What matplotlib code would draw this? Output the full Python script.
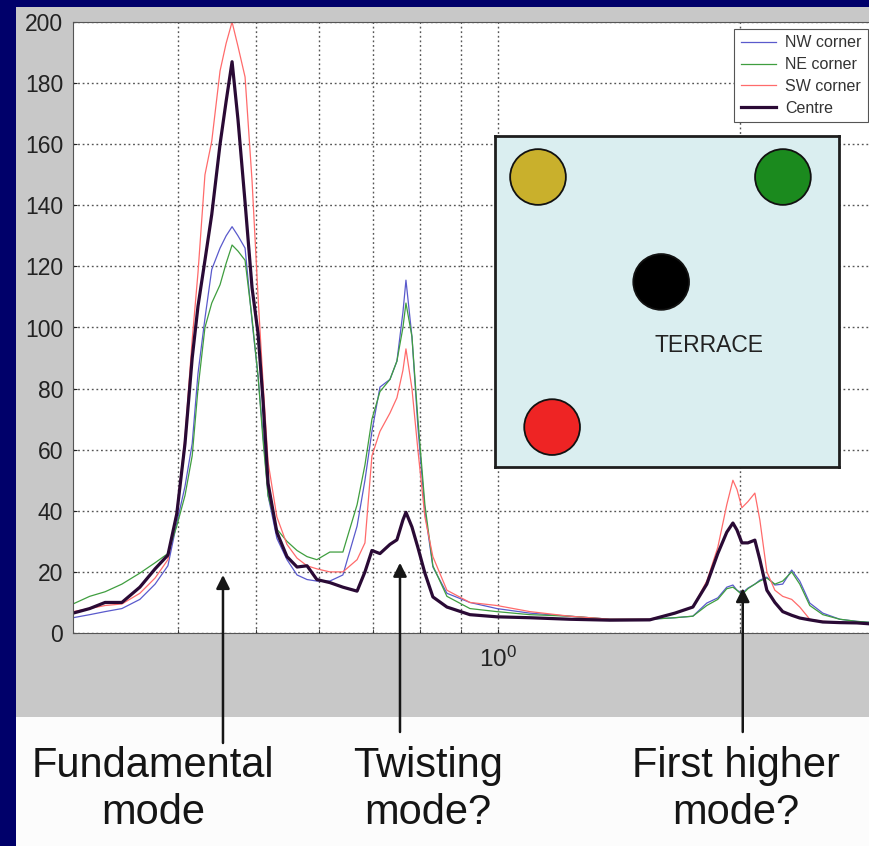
# Response spectra measured at four points on the terrace, with mode labels
import matplotlib.pyplot as plt
from matplotlib.patches import Rectangle, Circle
from matplotlib.ticker import FixedLocator, NullFormatter, LogFormatterSciNotation

plt.rcParams['font.family'] = ['Liberation Sans', 'DejaVu Sans']

# frequency (Hz) shared by all four records
freq = [0.2965, 0.311, 0.325, 0.341, 0.359, 0.375, 0.389, 0.399, 0.4085, 0.417,
        0.424, 0.4325, 0.441, 0.4516, 0.4595, 0.4674, 0.4754, 0.4851, 0.4949, 0.5035,
        0.5107, 0.5181, 0.5313, 0.5469, 0.5629, 0.5792, 0.5957, 0.6183, 0.6418, 0.6684,
        0.6836, 0.6974, 0.7136, 0.7343, 0.7491, 0.7621, 0.7687, 0.782, 0.7954, 0.8115,
        0.8303, 0.8643, 0.9231, 0.997, 1.096, 1.228, 1.378, 1.544, 1.659, 1.747,
        1.818, 1.876, 1.925, 1.959, 1.982, 2.01, 2.045, 2.086, 2.116, 2.159,
        2.209, 2.259, 2.318, 2.372, 2.441, 2.534, 2.66, 2.793, 2.899]

nw_corner = [5, 6, 7, 8, 11, 16, 22, 36, 48, 62,
             85, 103, 119, 126, 130, 133, 130, 126, 102, 84,
             65, 45, 31, 24, 19, 17.5, 17, 17, 19, 35,
             50, 66, 80.5, 83, 89, 105, 115.5, 97, 67.5, 40,
             21.6, 13, 10, 8, 6.5, 5.5, 4.5, 4.5, 5, 5.5,
             9.8, 11.5, 15, 15.7, 14, 13, 14.7, 16, 17.3, 18.3,
             15.7, 16, 20.6, 17, 9.8, 6.5, 4.5, 3.8, 3.5]

ne_corner = [9.5, 12, 13.5, 16, 19.6, 23, 26, 35, 45, 58,
             80, 100, 108, 114, 121, 127, 125, 122, 103, 84,
             63, 45, 34, 30, 27, 25, 24, 26.5, 26.5, 42,
             55, 70, 79, 83, 89, 100, 108, 97, 70, 42,
             22, 12, 8, 7, 6, 5.5, 4.5, 4.5, 5, 5.5,
             9, 11, 14.5, 15, 14, 12.5, 14.5, 16, 17, 18,
             16, 17, 20, 16, 9, 6, 4.5, 3.8, 3.5]

sw_corner = [7, 8, 9, 9.5, 13, 18, 24, 40, 64, 96,
             118, 150, 161, 184, 193, 200, 192, 182, 148, 110,
             82, 56, 38, 29, 24.5, 22, 21, 20, 20, 24,
             29.5, 58, 66, 72, 77, 86, 93, 80, 60, 38,
             25, 14, 10, 9, 7, 5.5, 4.5, 4.5, 6.5, 8.5,
             17, 28, 42, 50, 47, 41, 43, 45.8, 37, 20,
             14, 12, 11, 8.5, 4.5, 3.8, 3.5, 3.3, 3]

centre = [6.5, 8, 10, 10, 15, 21, 25.5, 39, 62, 90,
          107, 122, 137, 160, 174, 187, 168, 141, 113, 98,
          76, 49, 33, 25, 21.6, 22, 17.5, 16.5, 15, 13.7,
          20, 27, 26, 29, 30.5, 37, 39.5, 34.7, 28, 19.6,
          11.8, 8.5, 6, 5.3, 5, 4.5, 4.2, 4.3, 6.5, 8.5,
          16, 26, 33, 36, 33.7, 29.5, 29.5, 30.4, 24, 14,
          10, 7, 5.8, 4.9, 4.3, 3.6, 3.4, 3.3, 3]

y_ticks = [0, 20, 40, 60, 80, 100, 120, 140, 160, 180, 200]

# labelled modes and where their arrows point
mode_labels = ['Fundamental\nmode', 'Twisting\nmode?', 'First higher\nmode?']
mode_freqs = [0.4554, 0.7557, 2.015]
mode_levels = [19, 23, 14.7]

# sensor layout on the terrace sketch (inset units, terrace is 10 wide)
sensor_colors = ['#c9b02c', '#1b8a1e', '#000000', '#ee2424']
sensor_x = [1.25, 8.37, 4.83, 1.66]
sensor_y = [8.43, 8.43, 5.38, 1.16]

W, H = 870, 846
fig = plt.figure(figsize=(W / 100, H / 100), dpi=100, facecolor='#00006a')

# slide panels behind the chart
fig.patches.append(Rectangle((16 / W, 1 - 717 / H), 1, (717 - 7) / H,
                             transform=fig.transFigure, facecolor='#c8c8c8',
                             edgecolor='none', zorder=-10))
fig.patches.append(Rectangle((16 / W, 0), 1, 1 - 717 / H,
                             transform=fig.transFigure, facecolor='#fcfcfc',
                             edgecolor='none', zorder=-10))

ax = fig.add_axes([73 / W, 1 - 633 / H, (W - 73) / W, (633 - 22) / H])
ax.set_facecolor('white')

ax.plot(freq, nw_corner, color='#5a5acc', lw=0.9, label='NW corner')
ax.plot(freq, ne_corner, color='#3f9e3f', lw=0.9, label='NE corner')
ax.plot(freq, sw_corner, color='#ff6b6b', lw=0.9, label='SW corner')
ax.plot(freq, centre, color='#2a0a35', lw=2.3, label='Centre')

ax.set_xscale('log')
ax.set_xlim(0.2965, 2.9)
ax.set_ylim(0, 200)
ax.xaxis.set_major_locator(FixedLocator([1]))
ax.xaxis.set_major_formatter(LogFormatterSciNotation())
ax.xaxis.set_minor_locator(FixedLocator([0.4, 0.5, 0.6, 0.7, 0.8, 0.9, 2]))
ax.xaxis.set_minor_formatter(NullFormatter())
ax.set_yticks(y_ticks)
ax.grid(True, which='both', linestyle=(0, (1.3, 2.0)), color='#555555', lw=1.0)
ax.tick_params(axis='both', which='both', direction='in', length=3,
               labelsize=16.5, colors='#222222')
ax.tick_params(axis='x', pad=10, labelsize=17.5)
ax.tick_params(axis='y', pad=7)
for side in ['left', 'top', 'bottom']:
    ax.spines[side].set_color('#555555')
    ax.spines[side].set_linewidth(0.8)
ax.spines['right'].set_visible(False)

leg = ax.legend(loc='upper right', bbox_to_anchor=(868 / W, 1 - 29 / H),
                bbox_transform=fig.transFigure, fontsize=11.5, fancybox=False,
                framealpha=1, edgecolor='#555555', handlelength=2.2,
                handletextpad=0.6, labelspacing=0.42, borderpad=0.4,
                borderaxespad=0)
leg.get_frame().set_linewidth(0.8)
for t in leg.get_texts():
    t.set_color('#333333')

# terrace sketch
inset = fig.add_axes([495 / W, 1 - 467 / H, 344 / W, 331 / H])
inset.set_facecolor('#daeef0')
inset.set_xlim(0, 10)
inset.set_ylim(0, 10 * 331 / 344)
inset.set_xticks([])
inset.set_yticks([])
for s in inset.spines.values():
    s.set_linewidth(2)
    s.set_color('#1e1e1e')
for c, x, y in zip(sensor_colors, sensor_x, sensor_y):
    inset.add_patch(Circle((x, y), 0.81, facecolor=c, edgecolor='#111111', lw=1.3))
inset.text(6.22, 3.52, 'TERRACE', fontsize=16.5, color='#222222',
           ha='center', va='center')

# mode arrows and labels
arrow_tails = [1 - 743 / H, 1 - 732 / H, 1 - 732 / H]
label_x = [153 / W, 428 / W, 736 / W]
for lab, f, v, tail, lx in zip(mode_labels, mode_freqs, mode_levels, arrow_tails, label_x):
    ax.annotate('', xy=(f, v), xycoords='data',
                xytext=(f, tail), textcoords=('data', 'figure fraction'),
                arrowprops=dict(arrowstyle='-|>', color='#161616', lw=1.8,
                                mutation_scale=20, shrinkA=0, shrinkB=0),
                annotation_clip=False)
    fig.text(lx, 1 - 746 / H, lab, fontsize=30, color='#151515',
             ha='center', va='top', linespacing=1.22)

fig.savefig('out.png', dpi=100, facecolor=fig.get_facecolor())
